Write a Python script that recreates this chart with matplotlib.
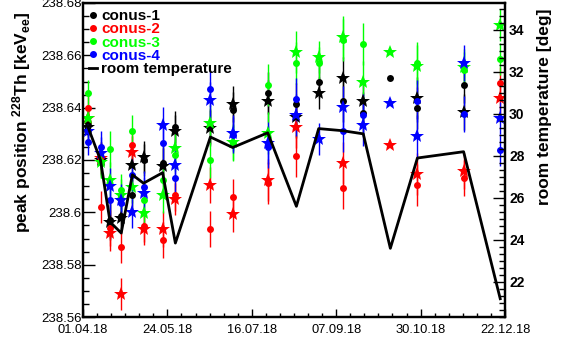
import matplotlib
matplotlib.use('Agg')
import matplotlib.pyplot as plt
import matplotlib.dates as mdates
from matplotlib.lines import Line2D
from matplotlib.ticker import FixedLocator, AutoMinorLocator, FuncFormatter
import numpy as np

plt.rcParams['font.family'] = ['Liberation Sans', 'DejaVu Sans']
plt.rcParams['mathtext.fontset'] = 'custom'
plt.rcParams['mathtext.rm'] = 'Liberation Sans:bold'
plt.rcParams['mathtext.it'] = 'Liberation Sans:bold'
plt.rcParams['mathtext.bf'] = 'Liberation Sans:bold'
plt.rcParams['mathtext.default'] = 'rm'

nan = np.nan

# measurement dates
dates = ['2018-04-04', '2018-04-12', '2018-04-18', '2018-04-25', '2018-05-02',
         '2018-05-09', '2018-05-21', '2018-05-29', '2018-06-20', '2018-07-04',
         '2018-07-26', '2018-08-13', '2018-08-27', '2018-09-11', '2018-09-24',
         '2018-10-11', '2018-10-28', '2018-11-26', '2018-12-19']

room_temp = [29.4, 27.8, 24.85, 24.33, 27.1, 26.7, 27.2, 23.85, 28.9, 28.4,
             29.1, 25.6, 29.3, 29.2, 29.05, 23.6, 27.9, 28.2, 21.2]

# peak positions, dots and stars for each detector
c1_dot = [238.6341, 238.6208, 238.5971, 238.5986, 238.6066, 238.6200, 238.6189,
          238.6326, 238.6330, 238.6391, 238.6456, 238.6414, 238.6498, 238.6425,
          238.6380, 238.6513, 238.6399, 238.6487, nan]
c1_star = [238.6326, 238.6200, 238.5963, 238.5978, 238.6181, 238.6211, 238.6177,
           238.6311, 238.6322, 238.6414, 238.6425, 238.6364, 238.6456, 238.6513,
           238.6425, nan, 238.6437, 238.6383, nan]
c2_dot = [238.6399, 238.6020, 238.5940, 238.5868, 238.6257, 238.5948, 238.5894,
          238.6066, 238.5936, 238.6059, 238.6112, 238.6215, nan, 238.6093,
          nan, nan, 238.6104, 238.6131, 238.6494]
c2_star = [238.6361, 238.6208, 238.5921, 238.5688, 238.6231, 238.5936, 238.5936,
           238.6051, 238.6104, 238.5994, 238.6124, 238.6326, nan, 238.6189,
           nan, 238.6257, 238.6147, 238.6158, 238.6437]
c3_dot = [238.6456, 238.6192, 238.6242, 238.6085, 238.6311, 238.6047, 238.6124,
          238.6219, 238.6200, 238.6265, 238.6487, 238.6571, 238.6571, 238.6659,
          238.6643, nan, 238.6571, 238.6544, 238.6586]
c3_star = [238.6361, 238.6192, 238.6124, 238.6066, 238.6097, 238.5997, 238.6066,
           238.6246, 238.6341, 238.6269, 238.6303, 238.6613, 238.6594, 238.6670,
           238.6498, 238.6613, 238.6559, 238.6555, 238.6716]
c4_dot = [238.6269, 238.6250, 238.6047, 238.6036, 238.6143, 238.6097, 238.6265,
          238.6131, 238.6471, 238.6296, 238.6250, 238.6433, nan, 238.6311,
          238.6372, nan, 238.6425, 238.6376, 238.6238]
c4_star = [238.6311, 238.6227, 238.6101, 238.6047, 238.6001, 238.6074, 238.6334,
           238.6181, 238.6429, 238.6303, 238.6265, 238.6372, 238.6280, 238.6403,
           238.6334, 238.6418, 238.6292, 238.6571, 238.6361]
err = [0.005, 0.006, 0.007, 0.006, 0.006, 0.006, 0.007, 0.006, 0.007, 0.007,
       0.008, 0.008, 0.006, 0.008, 0.008, 0.0, 0.008, 0.007, 0.006]

names = ['conus-1', 'conus-2', 'conus-3', 'conus-4']
colors = ['black', '#ff0000', '#00ff00', '#0000ff']
dots = [c1_dot, c2_dot, c3_dot, c4_dot]
stars = [c1_star, c2_star, c3_star, c4_star]

xticks = ['2018-04-01', '2018-05-24', '2018-07-16', '2018-09-07', '2018-10-30', '2018-12-22']

d = mdates.datestr2num(dates)

fig = plt.figure(figsize=(5.61, 3.5), dpi=100)
ax = fig.add_axes([83 / 561, 33 / 350, 422 / 561, 314 / 350])

for col, yd, ys in zip(colors, dots, stars):
    ax.errorbar(d, ys, yerr=err, fmt='*', color=col, ms=10, mew=0,
                elinewidth=1, capsize=1.5, capthick=1)
    ax.errorbar(d, yd, yerr=err, fmt='o', color=col, ms=5, mew=0,
                elinewidth=1, capsize=1.5, capthick=1)

ax.set_ylim(238.56, 238.68)
ax.set_xlim(mdates.datestr2num('2018-04-01'), mdates.datestr2num('2018-12-22'))
ax.xaxis.set_major_locator(FixedLocator(mdates.datestr2num(xticks)))
ax.xaxis.set_major_formatter(mdates.DateFormatter('%d.%m.%y'))
ax.xaxis.set_minor_locator(AutoMinorLocator(6))
ax.yaxis.set_major_locator(FixedLocator(np.arange(238.56, 238.6801, 0.02)))
ax.yaxis.set_minor_locator(AutoMinorLocator(4))
ax.yaxis.set_major_formatter(FuncFormatter(lambda v, p: ('%.2f' % v).rstrip('0')))
ax.tick_params(axis='x', which='major', direction='in', length=6, width=1,
               labelsize=9.3, pad=5, top=False)
ax.tick_params(axis='x', which='minor', direction='in', length=3, width=1, top=False)
ax.tick_params(axis='y', which='major', direction='in', length=8.6, width=1,
               labelsize=9.5, pad=1, right=False)
ax.tick_params(axis='y', which='minor', direction='in', length=4.3, width=1, right=False)
for s in ax.spines.values():
    s.set_linewidth(1.6)

ax2 = ax.twinx()
ax2.plot(d, room_temp, color='black', lw=2)
ax2.set_ylim(20.33, 35.28)
ax2.yaxis.set_major_locator(FixedLocator([22, 24, 26, 28, 30, 32, 34]))
ax2.yaxis.set_minor_locator(AutoMinorLocator(6))
ax2.tick_params(axis='y', which='major', direction='in', length=8.6, width=1,
                labelsize=10, pad=3)
ax2.tick_params(axis='y', which='minor', direction='in', length=4.3, width=1)
for lab in ax2.get_yticklabels():
    lab.set_fontweight('bold')
for s in ax2.spines.values():
    s.set_linewidth(1.6)

fig.text(22 / 561, 1 - 122 / 350, r'peak position $^{228}$Th [keV$_{ee}$]',
         rotation=90, ha='center', va='center', fontsize=12.5, fontweight='bold')
fig.text(545 / 561, 1 - 107 / 350, 'room temperature [deg]',
         rotation=90, ha='center', va='center', fontsize=12.5, fontweight='bold')

handles = [Line2D([], [], ls='', marker='o', ms=4, color=c) for c in colors]
handles.append(Line2D([], [], color='black', lw=2))
leg = ax2.legend(handles, names + ['room temperature'], loc='upper left',
                 bbox_to_anchor=(0.0, 1.0), frameon=False, fontsize=11,
                 handlelength=0.5, handletextpad=0.3, labelspacing=-0.05,
                 borderaxespad=0.2, borderpad=0.2)
for t, c in zip(leg.get_texts(), colors + ['black']):
    t.set_color(c)
    t.set_fontweight('bold')

fig.savefig('out.png', dpi=100)
